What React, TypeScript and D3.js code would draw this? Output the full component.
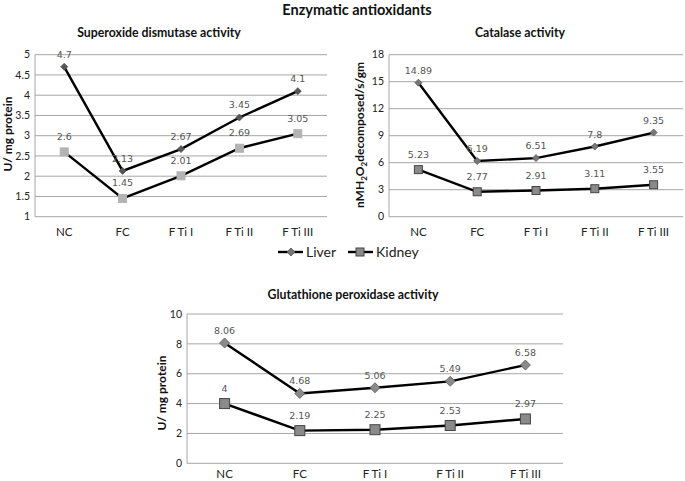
import React from "react";
import * as d3 from "d3";

const categories = ["NC", "FC", "F Ti I", "F Ti II", "F Ti III"];

const sodLiver = [4.7, 2.13, 2.67, 3.45, 4.1];
const sodKidney = [2.6, 1.45, 2.01, 2.69, 3.05];
const sodTicks = [1, 1.5, 2, 2.5, 3, 3.5, 4, 4.5, 5];

const catLiver = [14.89, 6.19, 6.51, 7.8, 9.35];
const catKidney = [5.23, 2.77, 2.91, 3.11, 3.55];
const catTicks = [0, 3, 6, 9, 12, 15, 18];

const gpxLiver = [8.06, 4.68, 5.06, 5.49, 6.58];
const gpxKidney = [4, 2.19, 2.25, 2.53, 2.97];
const gpxTicks = [0, 2, 4, 6, 8, 10];

const FONT = "Lato, 'Open Sans', sans-serif";
const LABEL_FONT = "'DejaVu Sans', sans-serif";

type PanelProps = {
  left: number;
  right: number;
  top: number;
  bottom: number;
  ticks: number[];
  liver: number[];
  kidney: number[];
  title: string;
  titleX: number;
  titleY: number;
  yTitle: React.ReactNode;
  yTitleX: number;
  yTitleY: number;
  catY: number;
  kidneyFill: string;
  kidneyStroke: string;
  kidneySize: number;
  diamondSize: number;
  diamondFill: string;
};

function Panel(p: PanelProps) {
  const x = d3.scaleBand<string>().domain(categories).range([p.left, p.right]);
  const cx = (c: string) => (x(c) as number) + x.bandwidth() / 2;
  const y = d3
    .scaleLinear()
    .domain([p.ticks[0], p.ticks[p.ticks.length - 1]])
    .range([p.bottom, p.top]);
  const line = d3
    .line<number>()
    .x((_, i) => cx(categories[i]))
    .y((d) => y(d));
  const fmt = (v: number) => String(v);
  const ds = p.diamondSize;
  const ks = p.kidneySize;
  return (
    <g>
      <text
        x={p.titleX}
        y={p.titleY}
        textAnchor="middle"
        fontFamily={FONT}
        fontWeight="bold"
        fontSize={12.3}
        fill="#111"
      >
        {p.title}
      </text>
      {p.ticks.map((t) => (
        <g key={t}>
          <line x1={p.left} x2={p.right} y1={y(t)} y2={y(t)} stroke="#a6a6a6" strokeWidth={1} />
          <text
            x={p.left - 5}
            y={y(t)}
            dy="0.35em"
            textAnchor="end"
            fontFamily={FONT}
            fontSize={10.5}
            fill="#222"
          >
            {fmt(t)}
          </text>
        </g>
      ))}
      <line x1={p.left} x2={p.left} y1={p.top} y2={p.bottom} stroke="#a6a6a6" strokeWidth={1} />
      {categories.map((c) => (
        <text
          key={c}
          x={cx(c)}
          y={p.catY}
          dy="0.35em"
          textAnchor="middle"
          fontFamily={FONT}
          fontSize={11.5}
          fill="#222"
        >
          {c}
        </text>
      ))}
      <text
        transform={`translate(${p.yTitleX},${p.yTitleY}) rotate(-90)`}
        textAnchor="middle"
        dy="0.35em"
        fontFamily={FONT}
        fontWeight="bold"
        fontSize={12}
        fill="#111"
      >
        {p.yTitle}
      </text>
      <path d={line(p.liver) || ""} fill="none" stroke="#000" strokeWidth={2.4} />
      <path d={line(p.kidney) || ""} fill="none" stroke="#000" strokeWidth={2.4} />
      {p.liver.map((v, i) => {
        const px = cx(categories[i]);
        const py = y(v);
        return (
          <g key={"l" + i}>
            <path
              d={`M${px},${py - ds}L${px + ds},${py}L${px},${py + ds}L${px - ds},${py}Z`}
              fill={p.diamondFill}
              stroke="#555"
              strokeWidth={0.8}
            />
            <text
              x={px}
              y={py - 9}
              textAnchor="middle"
              fontFamily={LABEL_FONT}
              fontSize={9.5}
              fill="#555"
            >
              {fmt(v)}
            </text>
          </g>
        );
      })}
      {p.kidney.map((v, i) => {
        const px = cx(categories[i]);
        const py = y(v);
        return (
          <g key={"k" + i}>
            <rect
              x={px - ks / 2}
              y={py - ks / 2}
              width={ks}
              height={ks}
              fill={p.kidneyFill}
              stroke={p.kidneyStroke}
              strokeWidth={1}
            />
            <text
              x={px}
              y={py - 12}
              textAnchor="middle"
              fontFamily={LABEL_FONT}
              fontSize={9.5}
              fill="#555"
            >
              {fmt(v)}
            </text>
          </g>
        );
      })}
    </g>
  );
}

export default function App() {
  return (
    <div style={{ position: "absolute", left: 0, top: 0 }}>
      <svg width={685} height={481} style={{ display: "block", background: "#fff" }}>
        <rect width={685} height={481} fill="#fff" />
        <text
          x={357}
          y={15}
          textAnchor="middle"
          fontFamily={FONT}
          fontWeight="bold"
          fontSize={14.5}
          fill="#111"
        >
          Enzymatic antioxidants
        </text>
        <Panel
          left={35}
          right={327}
          top={54.7}
          bottom={216.7}
          ticks={sodTicks}
          liver={sodLiver}
          kidney={sodKidney}
          title="Superoxide dismutase activity"
          titleX={159}
          titleY={37}
          yTitle="U/ mg protein"
          yTitleX={8}
          yTitleY={134}
          catY={232}
          kidneyFill="#b3b3b3"
          kidneyStroke="#b3b3b3"
          kidneySize={8}
          diamondSize={3.5}
          diamondFill="#555"
        />
        <Panel
          left={389}
          right={683}
          top={54.7}
          bottom={216.7}
          ticks={catTicks}
          liver={catLiver}
          kidney={catKidney}
          title="Catalase activity"
          titleX={520}
          titleY={37}
          yTitle={
            <>
              nMH
              <tspan fontSize={8} dy="3">2</tspan>
              <tspan dy="-3">O</tspan>
              <tspan fontSize={8} dy="3">2</tspan>
              <tspan dy="-3">decomposed/s/gm</tspan>
            </>
          }
          yTitleX={360}
          yTitleY={135}
          catY={232}
          kidneyFill="#8a8a8a"
          kidneyStroke="#444"
          kidneySize={8}
          diamondSize={3.5}
          diamondFill="#777"
        />
        <text x={306} y={257} fontFamily={FONT} fontSize={14} fill="#222">Liver</text>
        <line x1={278} x2={303} y1={252} y2={252} stroke="#000" strokeWidth={2.4} />
        <path d="M291,248L295,252L291,256L287,252Z" fill="#777" stroke="#555" strokeWidth={0.8} />
        <text x={376} y={257} fontFamily={FONT} fontSize={14} fill="#222">Kidney</text>
        <line x1={348} x2={373} y1={252} y2={252} stroke="#000" strokeWidth={2.4} />
        <rect x={356} y={248} width={8} height={8} fill="#8a8a8a" stroke="#444" strokeWidth={1} />
        <Panel
          left={187}
          right={563}
          top={314}
          bottom={463.3}
          ticks={gpxTicks}
          liver={gpxLiver}
          kidney={gpxKidney}
          title="Glutathione peroxidase activity"
          titleX={353}
          titleY={299}
          yTitle="U/ mg protein"
          yTitleX={162}
          yTitleY={393}
          catY={474}
          kidneyFill="#8a8a8a"
          kidneyStroke="#444"
          kidneySize={10}
          diamondSize={5}
          diamondFill="#8a8a8a"
        />
      </svg>
    </div>
  );
}
